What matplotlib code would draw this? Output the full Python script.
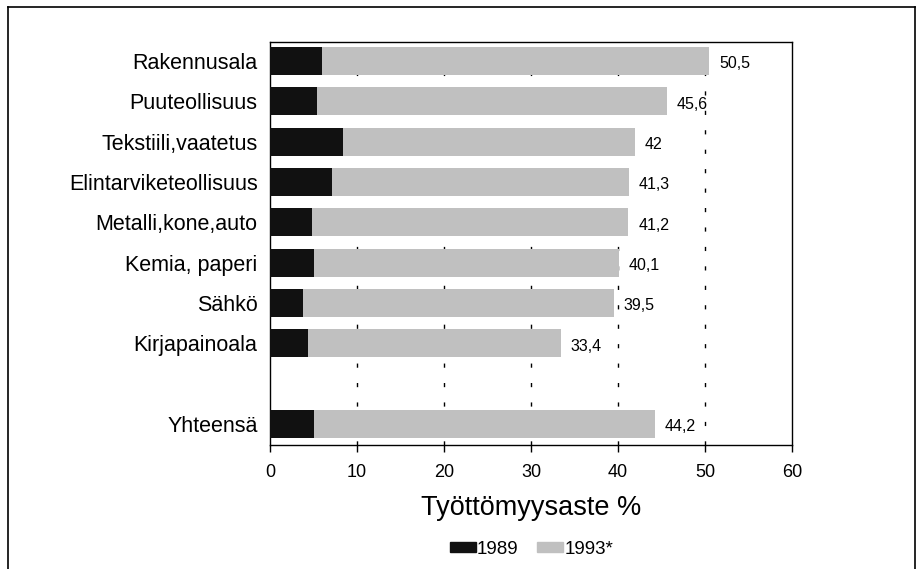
import matplotlib
matplotlib.use("Agg")
import matplotlib.pyplot as plt
from matplotlib.lines import Line2D
from matplotlib.patches import Patch

plt.rcParams['font.family'] = ['Liberation Sans', 'DejaVu Sans']

# data
categories = ['Rakennusala', 'Puuteollisuus', 'Tekstiili,vaatetus', 'Elintarviketeollisuus',
              'Metalli,kone,auto', 'Kemia, paperi', 'Sähkö', 'Kirjapainoala', 'Yhteensä']
ypos = [0, 1, 2, 3, 4, 5, 6, 7, 9]  # empty row before the total
vals_1989 = [6.0, 5.4, 8.4, 7.1, 4.8, 5.0, 3.8, 4.4, 5.1]
vals_1993 = [50.5, 45.6, 42.0, 41.3, 41.2, 40.1, 39.5, 33.4, 44.2]
labels_1993 = ['50,5', '45,6', '42', '41,3', '41,2', '40,1', '39,5', '33,4', '44,2']
xticks = [0, 10, 20, 30, 40, 50, 60]

fig = plt.figure(figsize=(9.21, 5.69), dpi=100)
ax = fig.add_axes([0.2932, 0.2179, 0.5667, 0.7083])

# dashed gridlines
for x in xticks[1:-1]:
    ax.axvline(x, color='black', lw=1, linestyle=(0, (3, 11)), zorder=0)

ax.barh(ypos, vals_1993, height=0.69, color='#c0c0c0', zorder=2)
ax.barh(ypos, vals_1989, height=0.69, color='#111111', zorder=3)

for y, v, lab in zip(ypos, vals_1993, labels_1993):
    ax.annotate(lab, (v, y), xytext=(7, -2), textcoords='offset points',
                va='center', ha='left', fontsize=11.5)

ax.set_xlim(0, 60)
ax.set_ylim(9.52, -0.47)
ax.set_xticks(xticks)
ax.set_xticklabels([str(x) for x in xticks], fontsize=13)
ax.set_yticks(ypos)
ax.set_yticklabels(categories, fontsize=15.5)
ax.tick_params(axis='y', length=0, pad=9)
ax.tick_params(axis='x', length=5, width=1, direction='out', pad=9)
for s in ax.spines.values():
    s.set_linewidth(1)

fig.text(0.5765, 0.107, 'Työttömyysaste %', ha='center', va='center', fontsize=19.5)

handles = [Patch(color='#111111'), Patch(color='#c0c0c0')]
fig.legend(handles, ['1989', '1993*'], loc='center', bbox_to_anchor=(0.577, 0.035),
           ncol=2, frameon=False, fontsize=13.5, handlelength=1.4, handleheight=0.45,
           handletextpad=0.05, columnspacing=1.0)

# outer frame
fig.add_artist(Line2D([8/921, 8/921], [0, 1 - 7/569], transform=fig.transFigure, color='black', lw=1.2))
fig.add_artist(Line2D([8/921, 915/921], [1 - 7/569, 1 - 7/569], transform=fig.transFigure, color='black', lw=1.2))
fig.add_artist(Line2D([915/921, 915/921], [0, 1 - 7/569], transform=fig.transFigure, color='black', lw=1.2))

fig.savefig('out.png', dpi=100)
